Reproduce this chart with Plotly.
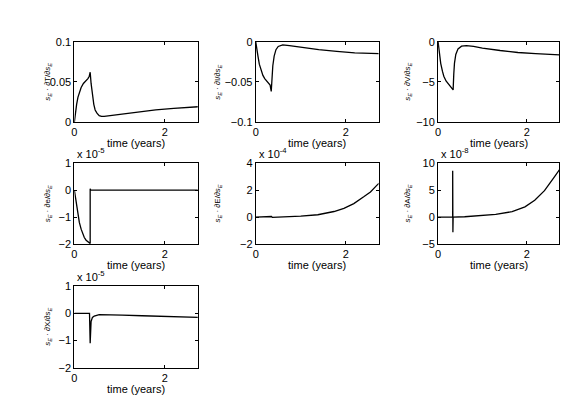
import plotly.graph_objects as go

# time (years) and sensitivities s_E * dY/ds_E
t_T = [0, 0.02, 0.05, 0.08, 0.11, 0.15, 0.2, 0.26, 0.3, 0.33, 0.35, 0.37, 0.4, 0.43, 0.46, 0.5,
       0.55, 0.6, 0.66, 0.8, 1.06, 1.4, 1.8, 2.2, 2.74]
dT = [0, 0.012, 0.022, 0.031, 0.037, 0.043, 0.048, 0.051, 0.054, 0.057, 0.062, 0.048, 0.033,
      0.022, 0.015, 0.011, 0.008, 0.007, 0.007, 0.008, 0.010, 0.012, 0.015, 0.017, 0.019]

t_I = [0, 0.02, 0.05, 0.08, 0.12, 0.16, 0.2, 0.27, 0.32, 0.345, 0.36, 0.38, 0.41, 0.45, 0.5,
       0.6, 0.75, 1.0, 1.4, 1.8, 2.2, 2.74]
dI = [0, -0.009, -0.018, -0.028, -0.036, -0.042, -0.046, -0.05, -0.054, -0.062, -0.045, -0.03,
      -0.018, -0.01, -0.006, -0.004, -0.005, -0.007, -0.010, -0.012, -0.014, -0.015]

t_V = [0, 0.02, 0.04, 0.06, 0.1, 0.13, 0.18, 0.24, 0.31, 0.34, 0.355, 0.37, 0.4, 0.45, 0.53,
       0.64, 0.8, 1.0, 1.4, 1.8, 2.2, 2.74]
dV = [0, -1.0, -1.9, -2.7, -3.7, -4.3, -4.9, -5.3, -5.7, -6.0, -4.0, -2.7, -1.6, -0.9, -0.56,
      -0.5, -0.6, -0.8, -1.1, -1.35, -1.5, -1.65]

# x 10^-5
t_e = [0, 0.02, 0.04, 0.07, 0.11, 0.15, 0.18, 0.22, 0.26, 0.3, 0.35, 0.35, 0.36, 2.74]
de = [0, -0.25, -0.5, -0.85, -1.2, -1.45, -1.62, -1.76, -1.86, -1.93, -1.98, 0.05, 0, 0]

# x 10^-4
t_E = [0, 0.33, 0.35, 0.37, 0.6, 1.0, 1.38, 1.74, 1.96, 2.18, 2.4, 2.55, 2.69, 2.74]
dE = [0, 0, 0.04, -0.03, 0.0, 0.07, 0.17, 0.41, 0.65, 1.0, 1.5, 1.86, 2.35, 2.5]

# x 10^-8
t_A = [0, 0.33, 0.33, 0.335, 0.34, 0.6, 0.94, 1.3, 1.67, 1.96, 2.18, 2.4, 2.62, 2.74]
dA = [0, 0, 8.6, -2.8, 0, 0.05, 0.24, 0.5, 1.0, 1.9, 3.1, 4.9, 7.4, 8.8]

# x 10^-5
t_X = [0, 0.335, 0.35, 0.37, 0.4, 0.44, 0.55, 0.75, 1.06, 1.5, 2.0, 2.74]
dX = [0, 0, -1.1, -0.3, -0.15, -0.1, -0.05, -0.05, -0.07, -0.09, -0.11, -0.15]

# page body has an 8px margin, so the figure is a bit smaller and shifted
OFF = 8
W, H = 581 - OFF, 413 - OFF
cols = [(71.7, 195.7), (254, 377.5), (437.3, 559)]
rows = [(36.5, 119.3), (161.7, 245), (288.3, 372.7)]
label_x = [45, 216, 407]

panels = [
    (t_T, dT, 0, 0, [0, 0.1], [0, 0.05, 0.1], ["0", "0.05", "0.1"], "T", None),
    (t_I, dI, 0, 1, [-0.1, 0], [-0.1, -0.05, 0], ["−0.1", "−0.05", "0"], "I", None),
    (t_V, dV, 0, 2, [-10, 0], [-10, -5, 0], ["−10", "−5", "0"], "V", None),
    (t_e, de, 1, 0, [-2, 1], [-2, -1, 0, 1], ["−2", "−1", "0", "1"], "e", "-5"),
    (t_E, dE, 1, 1, [-2, 4], [-2, 0, 2, 4], ["−2", "0", "2", "4"], "E", "-4"),
    (t_A, dA, 1, 2, [-5, 10], [-5, 0, 5, 10], ["−5", "0", "5", "10"], "A", "-8"),
    (t_X, dX, 2, 0, [-2, 1], [-2, -1, 0, 1], ["−2", "−1", "0", "1"], "X", "-5"),
]


def px(v):
    return (v - OFF) / W


def py(v):
    return 1 - (v - OFF) / H


fig = go.Figure()
font = dict(family="Liberation Sans, Arial, sans-serif", size=11, color="black")
axis_style = dict(showline=True, mirror="allticks", ticks="inside", ticklen=3,
                  linecolor="black", linewidth=1, tickcolor="black", showgrid=False,
                  zeroline=False, tickfont=font)
layout = {}
annotations = []

for i, (t, y, r, c, yr, yt, ytt, name, exp) in enumerate(panels):
    n = "" if i == 0 else str(i + 1)
    fig.add_trace(go.Scatter(x=t, y=y, mode="lines", xaxis="x" + n, yaxis="y" + n,
                             line=dict(color="black", width=1.3), showlegend=False))
    x0, x1 = cols[c]
    y0, y1 = rows[r]
    layout["xaxis" + n] = dict(axis_style, domain=[px(x0), px(x1)], range=[0, 2.73],
                               tickvals=[0, 2], anchor="y" + n)
    layout["yaxis" + n] = dict(axis_style, domain=[py(y1), py(y0)], range=yr,
                               tickvals=yt, ticktext=ytt, anchor="x" + n)
    annotations.append(dict(text="time (years)", x=px((x0 + x1) / 2), y=py(y1 + 22),
                            xref="paper", yref="paper", xanchor="center", yanchor="middle",
                            showarrow=False, font=font))
    annotations.append(dict(text=f"<i>s<sub>E</sub></i> · ∂{name}/∂<i>s<sub>E</sub></i>",
                            x=px(label_x[c]), y=py((y0 + y1) / 2), xref="paper",
                            yref="paper", xanchor="center", yanchor="middle",
                            showarrow=False, textangle=-90, font=dict(font, size=8)))
    if exp:
        annotations.append(dict(text=f"x 10<sup>{exp}</sup>", x=px(x0 + 1), y=py(y0 - 1),
                                xref="paper", yref="paper", xanchor="left", yanchor="bottom",
                                showarrow=False, font=font))

fig.update_layout(
    width=W,
    height=H,
    margin=dict(l=0, r=0, t=0, b=0),
    plot_bgcolor="white",
    paper_bgcolor="white",
    annotations=annotations,
    **layout,
)

fig.write_html("out.html")
